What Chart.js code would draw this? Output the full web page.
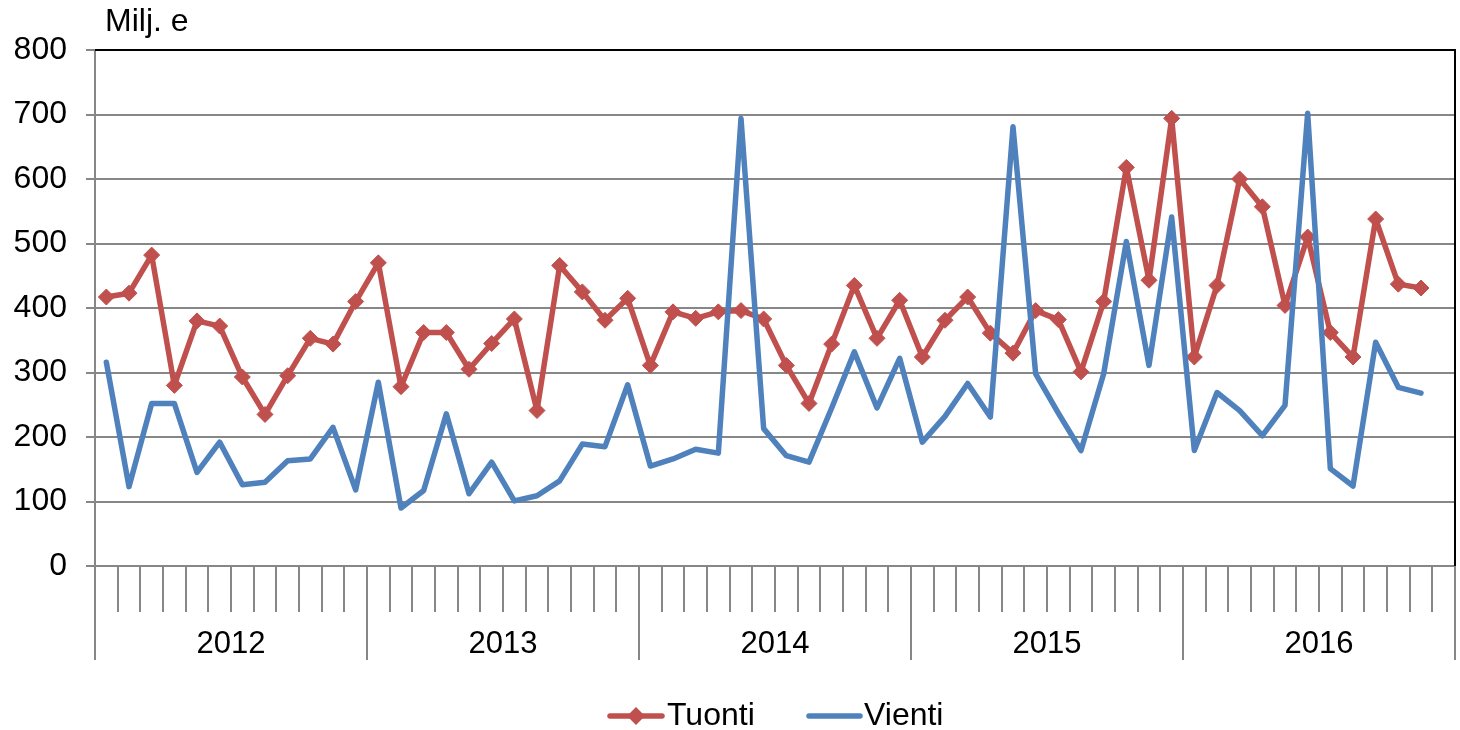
<!DOCTYPE html>
<html>
<head>
<meta charset="utf-8">
<script src="https://cdn.jsdelivr.net/npm/chart.js@4/dist/chart.umd.min.js"></script>
<style>
html,body{margin:0;padding:0;background:#fff;}
#wrap{width:1460px;height:730px;position:relative;}
</style>
</head>
<body>
<div id="wrap"><canvas id="c" width="1460" height="730"></canvas></div>
<script>
// ---- data ----
const years = ['2012', '2013', '2014', '2015', '2016'];
const monthNames = ['01','02','03','04','05','06','07','08','09','10','11','12'];
const unitLabel = 'Milj. e';
const seriesNames = ['Tuonti', 'Vienti'];
const tuonti = [417,423,482,280,380,372,293,235,295,353,
                344,410,470,278,362,362,305,345,383,241,
                466,425,381,415,311,394,384,394,396,383,
                311,252,344,435,353,412,324,381,417,361,
                330,396,382,301,410,618,443,694,324,435,
                600,557,404,510,362,324,538,437,431];
const vienti = [316,123,252,252,145,192,126,130,163,166,
                215,118,285,90,117,236,112,161,101,109,
                132,189,185,281,155,166,181,175,694,213,
                171,161,245,332,245,322,192,232,283,231,
                681,298,237,179,298,503,311,541,179,269,
                241,202,249,702,151,124,347,277,268];
const yMin = 0, yMax = 800, yStep = 100;

// category labels: one per month (60)
const monthLabels = [];
years.forEach(y => monthNames.forEach(m => monthLabels.push(y + '-' + m)));

const FONT = "'Liberation Sans', Arial, Helvetica, sans-serif";
const RED = '#C0504D', BLUE = '#4F81BD', GRID = '#878787';
Chart.defaults.font.family = FONT;
Chart.defaults.color = '#000';

const decor = {
  id: 'decor',
  afterDraw(chart) {
    const {ctx, chartArea: a} = chart;
    ctx.save();
    // black plot border top/right
    ctx.strokeStyle = '#000';
    ctx.lineWidth = 2;
    ctx.beginPath();
    ctx.moveTo(a.left, a.top);
    ctx.lineTo(a.right, a.top);
    ctx.lineTo(a.right, a.bottom);
    ctx.stroke();
    // unit label
    ctx.fillStyle = '#000';
    ctx.font = '32px ' + FONT;
    ctx.textBaseline = 'middle';
    ctx.textAlign = 'left';
    ctx.fillText(unitLabel, 105, 22);
    // legend
    const ly = 716;
    ctx.lineCap = 'round';
    ctx.lineWidth = 5.5;
    ctx.strokeStyle = RED;
    ctx.beginPath(); ctx.moveTo(610, ly); ctx.lineTo(662, ly); ctx.stroke();
    ctx.fillStyle = RED;
    ctx.beginPath();
    ctx.moveTo(636, ly - 9); ctx.lineTo(645, ly); ctx.lineTo(636, ly + 9); ctx.lineTo(627, ly);
    ctx.closePath(); ctx.fill();
    ctx.strokeStyle = BLUE;
    ctx.beginPath(); ctx.moveTo(809, ly); ctx.lineTo(860, ly); ctx.stroke();
    ctx.fillStyle = '#000';
    ctx.font = '32px ' + FONT;
    ctx.fillText(seriesNames[0], 667, ly);
    ctx.fillText(seriesNames[1], 864, ly);
    ctx.restore();
  }
};

function fixX(h) {
  return function (s) { s.height = h; s.paddingLeft = 0; s.paddingRight = 0; };
}

new Chart(document.getElementById('c'), {
  type: 'line',
  data: {
    labels: monthLabels,
    datasets: [
      {
        label: seriesNames[0], data: tuonti, order: 1,
        borderColor: RED, backgroundColor: RED, borderWidth: 5.5,
        pointStyle: 'rectRot', pointRadius: 8, pointBorderWidth: 1,
        pointBackgroundColor: RED, pointBorderColor: RED,
        tension: 0, borderJoinStyle: 'round', borderCapStyle: 'round'
      },
      {
        label: seriesNames[1], data: vienti, order: 0,
        borderColor: BLUE, backgroundColor: BLUE, borderWidth: 5.5,
        pointRadius: 0, tension: 0, borderJoinStyle: 'round', borderCapStyle: 'round'
      }
    ]
  },
  options: {
    responsive: false,
    animation: false,
    events: [],
    layout: {autoPadding: false, padding: {top: 50, right: 5, left: 0, bottom: 70}},
    plugins: {legend: {display: false}, tooltip: {enabled: false}, title: {display: false}},
    scales: {
      x: {
        type: 'category', position: 'bottom', offset: true, weight: 0,
        grid: {offset: true, drawOnChartArea: false, tickLength: 46, color: GRID, lineWidth: 2},
        border: {color: GRID, width: 2},
        ticks: {display: false},
        afterFit: fixX(46)
      },
      x2: {
        type: 'category', labels: years, position: 'bottom', offset: true, weight: 1,
        grid: {offset: true, drawOnChartArea: false, tickLength: 48, color: GRID, lineWidth: 2},
        border: {display: false},
        ticks: {font: {size: 31}, padding: -34, maxRotation: 0, autoSkip: false, color: '#000'},
        afterFit: fixX(48)
      },
      y: {
        min: yMin, max: yMax,
        ticks: {stepSize: yStep, font: {size: 32}, padding: 19, color: '#000'},
        grid: {color: GRID, lineWidth: 2, tickLength: 9},
        border: {color: GRID, width: 2},
        afterFit(s) { s.width = 95; }
      }
    }
  },
  plugins: [decor]
});
</script>
</body>
</html>
